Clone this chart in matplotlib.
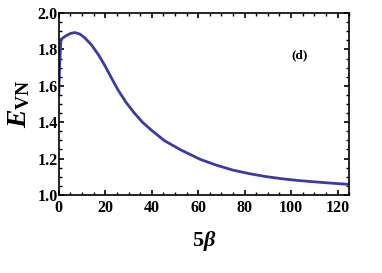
import matplotlib
matplotlib.use('Agg')
import matplotlib.pyplot as plt
from matplotlib.ticker import MultipleLocator

plt.rcParams['font.family'] = 'Liberation Serif'
plt.rcParams['font.weight'] = 'bold'
plt.rcParams['axes.labelweight'] = 'bold'
plt.rcParams['mathtext.fontset'] = 'custom'
plt.rcParams['mathtext.rm'] = 'Liberation Serif:bold'
plt.rcParams['mathtext.it'] = 'Liberation Serif:italic:bold'
plt.rcParams['mathtext.bf'] = 'Liberation Serif:bold'

# values
beta5 = [0.0, 0.3, 0.9, 3.0, 5.0, 6.9, 9.0, 11.0, 14.0, 17.0, 19.7, 22.5, 25.5,
         29.0, 32.6, 36.0, 39.8, 45.5, 52.6, 61.0, 68.0, 74.8, 82.0, 89.1,
         96.0, 103.4, 110.0, 117.0, 125.0]
evn = [1.56, 1.70, 1.855, 1.875, 1.888, 1.893, 1.885, 1.866, 1.826, 1.772, 1.714,
       1.647, 1.577, 1.508, 1.449, 1.400, 1.357, 1.298, 1.247, 1.195, 1.163,
       1.137, 1.117, 1.101, 1.089, 1.079, 1.072, 1.065, 1.058]

fig = plt.figure(figsize=(3.82, 2.73), dpi=100)
ax = fig.add_axes([0.154, 0.286, 0.760, 0.666])

ax.plot(beta5, evn, color='#3b3ba3', lw=2.0)

ax.set_xlim(0, 125)
ax.set_ylim(1.0, 2.0)
ax.xaxis.set_major_locator(MultipleLocator(20))
ax.xaxis.set_minor_locator(MultipleLocator(5))
ax.yaxis.set_major_locator(MultipleLocator(0.2))
ax.yaxis.set_minor_locator(MultipleLocator(0.05))
ax.tick_params(which='both', direction='in', top=True, right=True, labelsize=11.5)
ax.tick_params(axis='x', pad=4)
ax.tick_params(axis='y', pad=1)
ax.tick_params(which='major', length=3.5, width=1.2)
ax.tick_params(which='minor', length=2, width=1.0)
for s in ax.spines.values():
    s.set_linewidth(1.2)
ax.set_yticklabels([f'{v:.1f}' for v in ax.get_yticks()])

ax.set_xlabel(r'5$\beta$', fontsize=16, labelpad=9)
ax.set_ylabel(r'$E_{\rm VN}$', fontsize=20, labelpad=4)
ax.text(0.83, 0.77, '(d)', transform=ax.transAxes, fontsize=9.5, fontweight='bold', ha='center', va='center')

fig.savefig('out.png', dpi=100)
